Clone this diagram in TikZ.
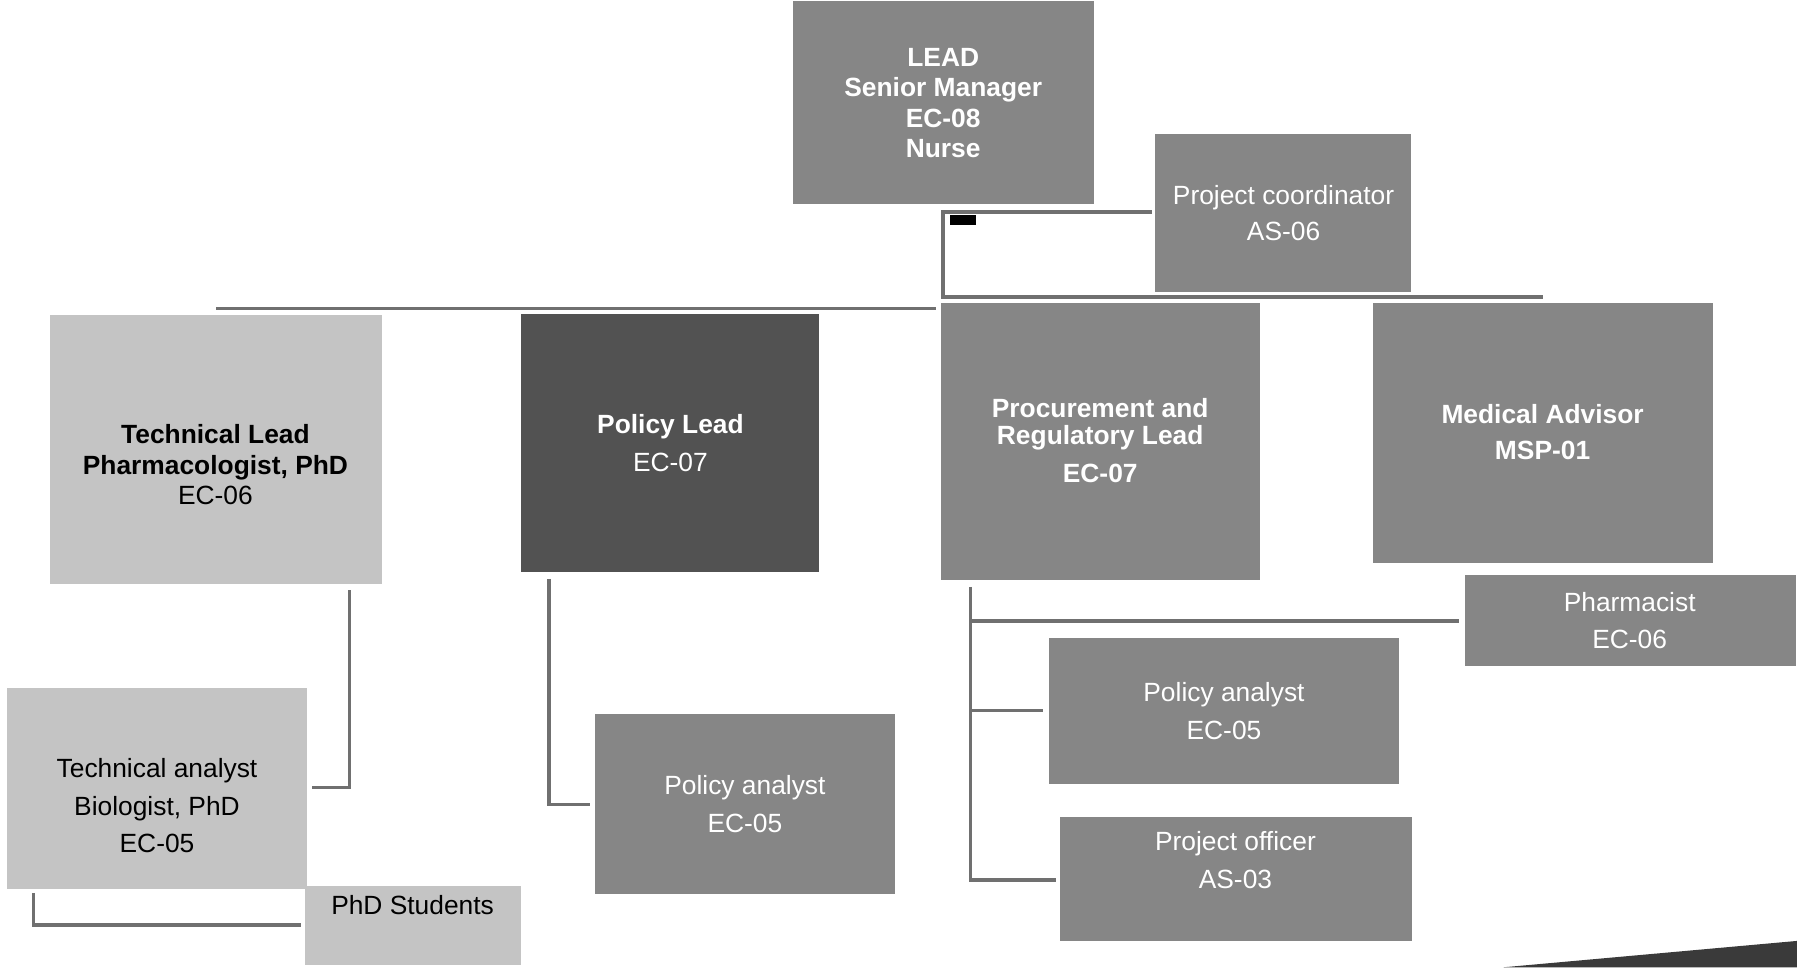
\documentclass[tikz,border=0pt]{standalone}
\usepackage{fontspec}
\setmainfont{Liberation Sans}
\definecolor{midbox}{RGB}{134,134,134}
\definecolor{darkbox}{RGB}{82,82,82}
\definecolor{lightbox}{RGB}{196,196,196}
\definecolor{linegray}{RGB}{112,112,112}
\definecolor{wedge}{RGB}{58,58,58}
\begin{document}
\begin{tikzpicture}[x=1pt,y=-1pt,
  box/.style={rectangle,draw=none,inner sep=0pt,outer sep=0pt},
  midb/.style={box,fill=midbox},
  darkb/.style={box,fill=darkbox},
  lightb/.style={box,fill=lightbox},
  wtxt/.style={text=white,align=center,inner sep=0pt,font=\fontsize{23}{26.5}\selectfont},
  btxt/.style={text=black,align=center,inner sep=0pt,font=\fontsize{23}{26.5}\selectfont},
  conn/.style={draw=linegray,line width=3pt}]
\useasboundingbox (0,0) rectangle (1568,844);

% boxes
\node[midb,minimum width=263pt,minimum height=177pt] (lead) at (823.5,89.5) {};
\node[midb,minimum width=223pt,minimum height=138pt] (pcoord) at (1119.5,186) {};
\node[lightb,minimum width=289pt,minimum height=235pt] (techlead) at (188.5,392.5) {};
\node[darkb,minimum width=260pt,minimum height=225pt] (policylead) at (585,386.5) {};
\node[midb,minimum width=278pt,minimum height=242pt] (procure) at (960,385) {};
\node[midb,minimum width=297pt,minimum height=227pt] (medical) at (1346.5,377.5) {};
\node[midb,minimum width=289pt,minimum height=79pt] (pharm) at (1422.5,541.5) {};
\node[midb,minimum width=306pt,minimum height=127pt] (panR) at (1068,620.5) {};
\node[midb,minimum width=307pt,minimum height=108pt] (pofficer) at (1078.5,767) {};
\node[midb,minimum width=262pt,minimum height=157pt] (panM) at (650,701.5) {};
\node[lightb,minimum width=262pt,minimum height=176pt] (tanalyst) at (137,688) {};
\node[lightb,minimum width=189pt,minimum height=69pt] (phd) at (360.5,807.5) {};

% texts
\node[wtxt] (leadtxt) at (823,90) {\textbf{LEAD}\\\textbf{Senior Manager}\\\textbf{EC-08}\\\textbf{Nurse}};
\node[wtxt] (pcoordtxt) at (1120,186) {Project coordinator\\[5.5pt]AS-06};
\node[btxt] (techleadtxt) at (188,405.5) {\textbf{Technical Lead}\\\textbf{Pharmacologist, PhD}\\EC-06};
\node[wtxt] (policyleadtxt) at (585,386.5) {\textbf{Policy Lead}\\[6.5pt]EC-07};
\node[wtxt] (procuretxt) at (960,384.5) {\textbf{Procurement and}\\[-2.5pt]\textbf{Regulatory Lead}\\[6.5pt]\textbf{EC-07}};
\node[wtxt] (medicaltxt) at (1346,377) {\textbf{Medical Advisor}\\[5.5pt]\textbf{MSP-01}};
\node[wtxt] (pharmtxt) at (1422,541.5) {Pharmacist\\[6.5pt]EC-06};
\node[wtxt] (panRtxt) at (1068,620.5) {Policy analyst\\[6.5pt]EC-05};
\node[wtxt] (pofficertxt) at (1078,750.5) {Project officer\\[6.5pt]AS-03};
\node[wtxt] (panMtxt) at (650,701.5) {Policy analyst\\[6.5pt]EC-05};
\node[btxt] (tanalysttxt) at (137,703) {Technical analyst\\[6.5pt]Biologist, PhD\\[6.5pt]EC-05};
\node[btxt] (phdtxt) at (360,790) {PhD Students};

% junction coordinates
\coordinate (jtop) at (823,185);
\coordinate (jbot) at (823,259);
\coordinate (jmainR) at (817,269);
\coordinate (tlA) at (305,515);
\coordinate (tlB) at (305,687);
\coordinate (tlC) at (272,687);
\coordinate (plA) at (479,505);
\coordinate (plB) at (479,702);
\coordinate (plC) at (515,702);
\coordinate (prA) at (847,512);
\coordinate (prB) at (847,542);
\coordinate (prC) at (847,620);
\coordinate (prD) at (847,768);
\coordinate (phA) at (29,779);
\coordinate (phB) at (29,807);
\coordinate (phC) at (263,807);

% connectors
\draw[conn] ([xshift=-3pt]pcoord.west |- jtop) -- (jtop) -- (jbot) -- (medical.north |- jbot);
\draw[conn] (techlead.north |- jmainR) -- (jmainR);
\draw[conn] (tlA) -- (tlB) -- (tlC);
\draw[conn] (plA) -- (plB) -- (plC);
\draw[conn] (prA) -- (prD) -- ([xshift=-4pt]pofficer.west |- prD);
\draw[conn] (prB) -- ([xshift=-5pt]pharm.west |- prB);
\draw[conn] (prC) -- ([xshift=-5pt]panR.west |- prC);
\draw[conn] (phA) -- (phB) -- (phC);

% small black mark
\fill[black] (829,188) rectangle (852,196);

% decorative wedge
\fill[wedge] (1312,844) -- (1568,821) -- (1568,844) -- cycle;
\end{tikzpicture}
\end{document}
